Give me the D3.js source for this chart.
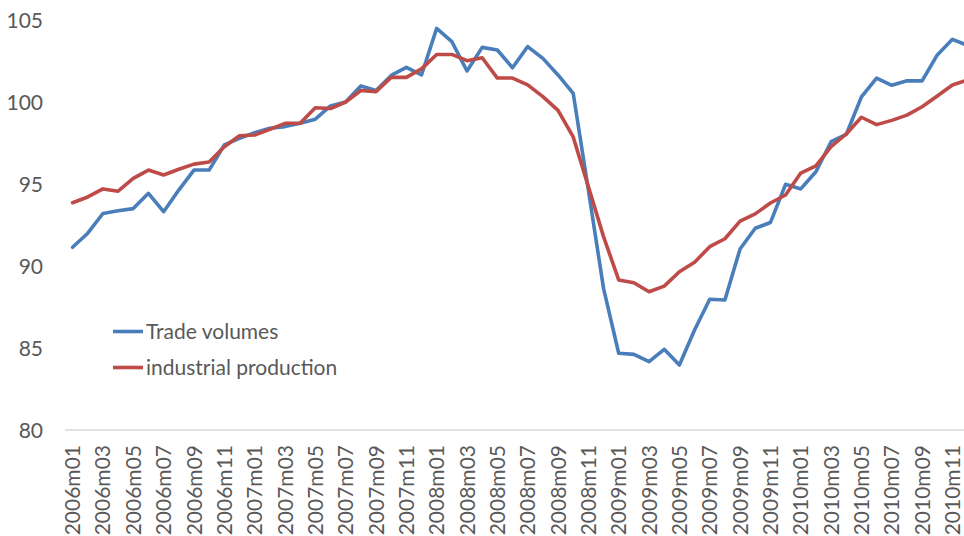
<!DOCTYPE html>
<html>
<head>
<meta charset="utf-8">
<script src="https://cdn.jsdelivr.net/npm/d3@7"></script>
<style>
  html, body { margin: 0; padding: 0; background: #ffffff; }
  svg { display: block; }
</style>
</head>
<body>
<svg id="chart" width="964" height="536"></svg>
<script>
const months = [
  "2006m01","2006m02","2006m03","2006m04","2006m05","2006m06","2006m07","2006m08","2006m09","2006m10","2006m11","2006m12",
  "2007m01","2007m02","2007m03","2007m04","2007m05","2007m06","2007m07","2007m08","2007m09","2007m10","2007m11","2007m12",
  "2008m01","2008m02","2008m03","2008m04","2008m05","2008m06","2008m07","2008m08","2008m09","2008m10","2008m11","2008m12",
  "2009m01","2009m02","2009m03","2009m04","2009m05","2009m06","2009m07","2009m08","2009m09","2009m10","2009m11","2009m12",
  "2010m01","2010m02","2010m03","2010m04","2010m05","2010m06","2010m07","2010m08","2010m09","2010m10","2010m11","2010m12"
];
const tradeVolumes = [
  91.14, 92.0, 93.2, 93.37, 93.5, 94.43, 93.31, 94.63, 95.85, 95.85, 97.38, 97.78,
  98.13, 98.4, 98.5, 98.7, 98.95, 99.76, 100.0, 100.98, 100.7, 101.62, 102.11, 101.65,
  104.49, 103.68, 101.89, 103.33, 103.17, 102.09, 103.38, 102.66, 101.65, 100.53, 94.63, 88.64,
  84.68, 84.61, 84.17, 84.92, 83.96, 86.1, 87.97, 87.93, 91.04, 92.3, 92.65, 94.98,
  94.7, 95.75, 97.58, 98.02, 100.31, 101.46, 101.02, 101.29, 101.29, 102.87, 103.82, 103.45
];
const industrialProduction = [
  93.86, 94.21, 94.7, 94.56, 95.34, 95.85, 95.55, 95.9, 96.21, 96.34, 97.27, 97.94,
  97.99, 98.33, 98.7, 98.7, 99.65, 99.6, 100.0, 100.7, 100.63, 101.5, 101.5, 102.02,
  102.9, 102.9, 102.52, 102.7, 101.46, 101.46, 101.04, 100.33, 99.49, 97.87, 94.84, 91.79,
  89.15, 88.98, 88.43, 88.77, 89.65, 90.23, 91.18, 91.66, 92.74, 93.18, 93.84, 94.33,
  95.67, 96.11, 97.28, 98.05, 99.07, 98.62, 98.88, 99.2, 99.71, 100.37, 101.04, 101.34
];
const yTicks = [80, 85, 90, 95, 100, 105];
const seriesNames = ["Trade volumes", "industrial production"];
const seriesColors = ["#4a7ebb", "#be4b48"];

const svg = d3.select("#chart");
const FONT = "Lato, 'Open Sans', sans-serif";
const TEXT = "#595959";

const x = d3.scaleBand().domain(months).range([65, 65 + 60 * 15.17]).padding(0);
const y = d3.scaleLinear().domain([80, 105]).range([430, 20]);
const cx = d => x(d) + x.bandwidth() / 2;

// x axis line
svg.append("line")
  .attr("x1", x.range()[0]).attr("x2", x.range()[1])
  .attr("y1", y(80)).attr("y2", y(80))
  .attr("stroke", "#d9d9d9").attr("stroke-width", 1.3);

// y axis labels
const yAxis = d3.axisLeft(y).tickValues(yTicks).tickSize(0).tickPadding(0).tickFormat(d3.format("d"));
const yg = svg.append("g").attr("transform", "translate(43,0)").call(yAxis);
yg.select(".domain").remove();
yg.selectAll("text").attr("font-family", FONT).attr("font-size", 21).attr("fill", TEXT).attr("dy", "0.35em");

// x axis labels
const xAxis = d3.axisBottom(x).tickValues(months.filter((m, i) => i % 2 === 0)).tickSize(0).tickPadding(0);
const xg = svg.append("g").attr("transform", `translate(0,${y(80)})`).call(xAxis);
xg.select(".domain").remove();
xg.selectAll("text")
  .attr("font-family", FONT).attr("font-size", 21).attr("fill", TEXT)
  .attr("transform", "rotate(-90)")
  .attr("text-anchor", "end")
  .attr("x", -15).attr("y", 0).attr("dy", "0.36em");

// lines
const line = d3.line().x((d, i) => cx(months[i])).y(d => y(d));
[tradeVolumes, industrialProduction].forEach((s, k) => {
  svg.append("path")
    .datum(s)
    .attr("d", line)
    .attr("fill", "none")
    .attr("stroke", seriesColors[k])
    .attr("stroke-width", 3.6)
    .attr("stroke-linejoin", "round")
    .attr("stroke-linecap", "round");
});

// legend
const legendY = [331.5, 367.5];
seriesNames.forEach((name, k) => {
  const g = svg.append("g");
  g.append("line")
    .attr("x1", 113).attr("x2", 143)
    .attr("y1", legendY[k]).attr("y2", legendY[k])
    .attr("stroke", seriesColors[k]).attr("stroke-width", 3.6);
  g.append("text")
    .attr("x", 146).attr("y", legendY[k]).attr("dy", "0.35em")
    .attr("font-family", FONT).attr("font-size", 21).attr("fill", TEXT)
    .text(name);
});
</script>
</body>
</html>
